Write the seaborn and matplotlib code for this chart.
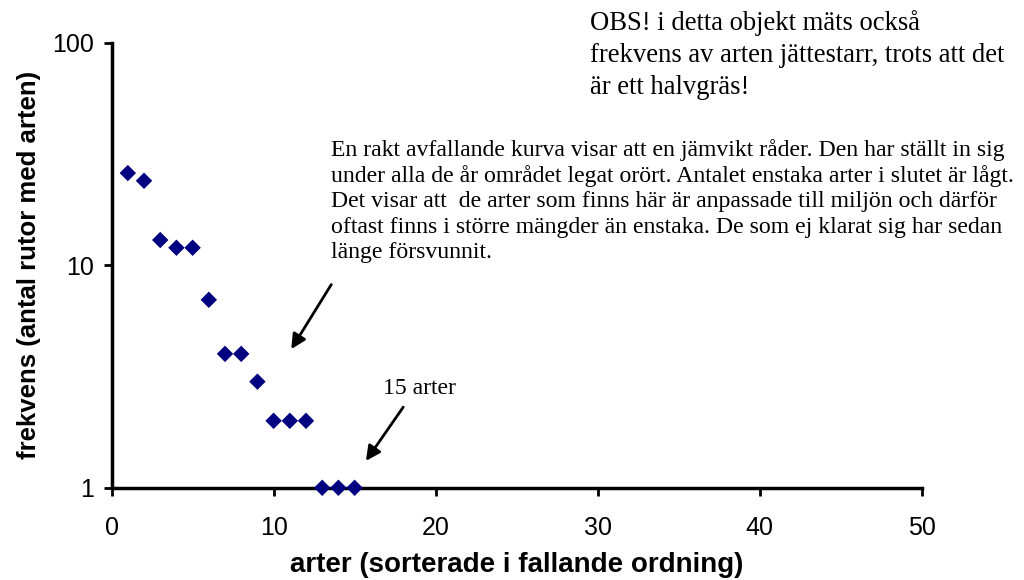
import pandas as pd
import matplotlib.pyplot as plt
import seaborn as sns

arter = list(range(1, 16))
frekvens = [26, 24, 13, 12, 12, 7, 4, 4, 3, 2, 2, 2, 1, 1, 1]

df = pd.DataFrame({"arter": arter, "frekvens": frekvens})

sns.set_style("white")
plt.rcParams["font.family"] = ["Liberation Sans", "DejaVu Sans"]
plt.rcParams["text.color"] = "black"
plt.rcParams["axes.labelcolor"] = "black"
plt.rcParams["xtick.color"] = "black"
plt.rcParams["ytick.color"] = "black"

fig = plt.figure(figsize=(10.24, 5.8), dpi=100)
ax = fig.add_axes([0.109, 0.159, 0.791, 0.767])

sns.scatterplot(data=df, x="arter", y="frekvens", marker="D", s=70,
                color="#000080", edgecolor="none", ax=ax, clip_on=False, zorder=3)

ax.set_yscale("log")
ax.set_xlim(0, 50)
ax.set_ylim(1, 100)
ax.set_xticks([0, 10, 20, 30, 40, 50])
ax.set_yticks([1, 10, 100])
ax.set_yticklabels(["1", "10", "100"])
ax.minorticks_off()
ax.tick_params(axis="both", direction="out", length=6, width=2, labelsize=18,
               left=True, bottom=True)
ax.tick_params(axis="x", pad=14)
ax.tick_params(axis="y", pad=7)
for side in ["top", "right"]:
    ax.spines[side].set_visible(False)
for side in ["left", "bottom"]:
    ax.spines[side].set_linewidth(2.5)
    ax.spines[side].set_color("black")

ax.set_xlabel("arter (sorterade i fallande ordning)", fontsize=20, fontweight="bold", labelpad=9)
ax.set_ylabel("frekvens (antal rutor med arten)", fontsize=18.5, fontweight="bold", labelpad=8)

serif = ["Liberation Serif", "DejaVu Serif"]
fig.text(590 / 1024, 1 - 10 / 580,
         "OBS! i detta objekt mäts också\nfrekvens av arten jättestarr, trots att det\när ett halvgräs!",
         fontsize=19.2, family=serif, va="top", ha="left", linespacing=1.38)
fig.text(331 / 1024, 1 - 139 / 580,
         "En rakt avfallande kurva visar att en jämvikt råder. Den har ställt in sig\n"
         "under alla de år området legat orört. Antalet enstaka arter i slutet är lågt.\n"
         "Det visar att  de arter som finns här är anpassade till miljön och därför\n"
         "oftast finns i större mängder än enstaka. De som ej klarat sig har sedan\n"
         "länge försvunnit.",
         fontsize=17.1, family=serif, va="top", ha="left", linespacing=1.26)
fig.text(383 / 1024, 1 - 378 / 580, "15 arter", fontsize=17.1, family=serif,
         va="top", ha="left")

arrow = dict(arrowstyle="-|>", color="black", lw=2, mutation_scale=22)
ax.annotate("", xy=(11.0, 4.1), xytext=(13.65, 8.4), arrowprops=arrow)
ax.annotate("", xy=(15.6, 1.29), xytext=(18.1, 2.36), arrowprops=arrow)

fig.savefig("out.png", dpi=100)
